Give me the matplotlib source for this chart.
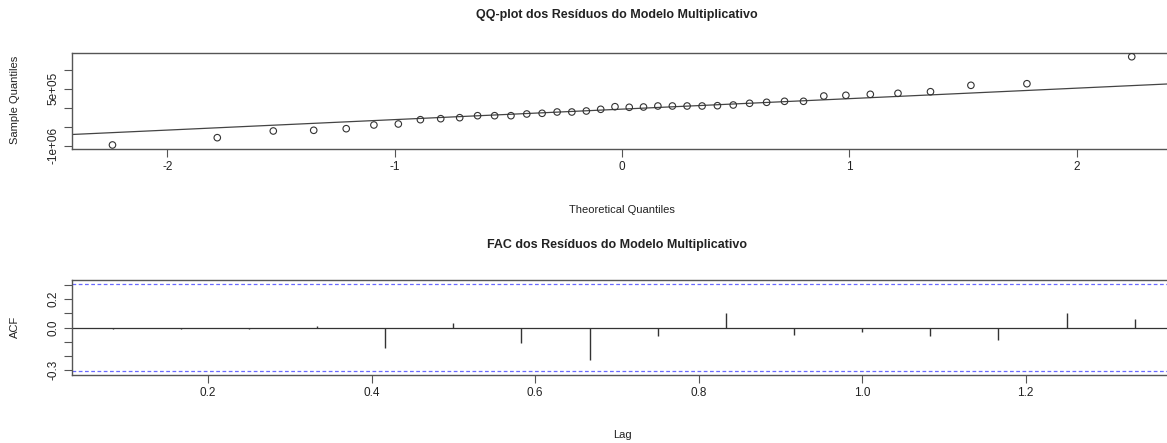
import numpy as np
import matplotlib
matplotlib.use("Agg")
import matplotlib.pyplot as plt
from statistics import NormalDist

plt.rcParams['font.family'] = ['Liberation Sans', 'DejaVu Sans']

# Sorted residuals of the multiplicative model
residuals = [
    -984000, -791500, -614800, -596300, -554100, -456500, -430100, -316600,
    -290200, -263900, -211100, -211100, -211100, -166200, -147800, -113500,
    -113500, -87100, -42200, 26400, 10600, 18500, 44900, 44900,
    44900, 44900, 52800, 71200, 116100, 142500, 168900, 168900,
    308700, 327200, 353600, 379900, 422200, 591000, 633200, 1345600,
]

qq_yticks = [-1e6, -5e5, 0, 5e5, 1e6]
qq_yticklabels = ['-1e+06', '', '', '5e+05', '']
qq_xticks = [-2, -1, 0, 1, 2]
qq_xticklabels = ['-2', '-1', '0', '1', '2']

# Autocorrelation of residuals, lags 1..16 (monthly series)
acf_lags = [k / 12 for k in range(1, 17)]
acf_values = [-0.010, -0.009, -0.008, 0.010, -0.146, 0.030, -0.110, -0.228,
              -0.062, 0.103, -0.054, -0.030, -0.062, -0.087, 0.101, 0.060]
acf_yticks = [-0.3, -0.2, -0.1, 0.0, 0.1, 0.2, 0.3]
acf_yticklabels = ['-0.3', '', '', '0.0', '', '0.2', '']
acf_xticks = [0.2, 0.4, 0.6, 0.8, 1.0, 1.2]
acf_xticklabels = ['0.2', '0.4', '0.6', '0.8', '1.0', '1.2']
n_obs = 40

W, H = 1167, 443
fig = plt.figure(figsize=(W / 100, H / 100), dpi=100)
fig.patch.set_facecolor('white')

TXT = '#222222'
BOX = '#555555'


def px_axes(left, top, right, bottom):
    return fig.add_axes([left / W, 1 - bottom / H, (right - left) / W, (bottom - top) / H])


def r_style(ax):
    for s in ax.spines.values():
        s.set_color(BOX)
        s.set_linewidth(1.0)
    ax.tick_params(direction='out', length=6, width=0.8, color=BOX,
                   labelcolor=TXT, labelsize=8.5, pad=3)
    for lab in ax.get_yticklabels():
        lab.set_rotation(90)
        lab.set_va('center')


# ---------- QQ plot ----------
n = len(residuals)
nd = NormalDist()
theo = np.array([nd.inv_cdf((i - 0.5) / n) for i in range(1, n + 1)])
y = np.array(residuals, dtype=float)

ax1 = px_axes(71.7, 53.2, 1172.5, 148.5)
ax1.scatter(theo, y, s=22, facecolors='none', edgecolors='#333333', linewidths=0.8, zorder=3)

# reference line through the quartiles
q1, q3 = np.quantile(y, [0.25, 0.75])
z1, z3 = nd.inv_cdf(0.25), nd.inv_cdf(0.75)
slope = (q3 - q1) / (z3 - z1)
icpt = q1 - slope * z1
xr = np.array([-3, 3])
ax1.plot(xr, icpt + slope * xr, color='#444444', lw=0.9, zorder=2)

xpad = (theo.max() - theo.min()) * 0.04
ypad = (y.max() - y.min()) * 0.04
ax1.set_xlim(theo.min() - xpad, theo.max() + xpad)
ax1.set_ylim(y.min() - ypad, y.max() + ypad)
ax1.set_xticks(qq_xticks)
ax1.set_xticklabels(qq_xticklabels)
ax1.set_yticks(qq_yticks)
ax1.set_yticklabels(qq_yticklabels)
r_style(ax1)
fig.text(617 / W, 1 - 15 / H, 'QQ-plot dos Resíduos do Modelo Multiplicativo',
         ha='center', va='center', fontsize=9, fontweight='bold', color=TXT)
fig.text(622 / W, 1 - 210 / H, 'Theoretical Quantiles', ha='center', va='center',
         fontsize=8, color=TXT)
fig.text(15 / W, 1 - 100 / H, 'Sample Quantiles', ha='center', va='center',
         rotation=90, fontsize=8, color=TXT)

# ---------- ACF ----------
ci = 1.96 / np.sqrt(n_obs)
ax2 = px_axes(71.7, 280, 1175.6, 375)
ax2.vlines(acf_lags, 0, acf_values, color='#333333', lw=1.0)
ax2.axhline(0, color='#333333', lw=0.9)
ax2.axhline(ci, color='#4444ff', lw=0.9, ls=(0, (3, 2)), alpha=0.8)
ax2.axhline(-ci, color='#4444ff', lw=0.9, ls=(0, (3, 2)), alpha=0.8)
lpad = (max(acf_lags) - min(acf_lags)) * 0.04
ax2.set_xlim(min(acf_lags) - lpad, max(acf_lags) + lpad)
ylim = max(ci, max(abs(v) for v in acf_values)) * 1.08
ax2.set_ylim(-ylim, ylim)
ax2.set_xticks(acf_xticks)
ax2.set_xticklabels(acf_xticklabels)
ax2.set_yticks(acf_yticks)
ax2.set_yticklabels(acf_yticklabels)
r_style(ax2)
fig.text(617 / W, 1 - 245 / H, 'FAC dos Resíduos do Modelo Multiplicativo',
         ha='center', va='center', fontsize=9, fontweight='bold', color=TXT)
fig.text(622 / W, 1 - 435 / H, 'Lag', ha='center', va='center', fontsize=8, color=TXT)
fig.text(15 / W, 1 - 327 / H, 'ACF', ha='center', va='center', rotation=90,
         fontsize=8, color=TXT)

fig.savefig('out.png', dpi=100, facecolor='white')
